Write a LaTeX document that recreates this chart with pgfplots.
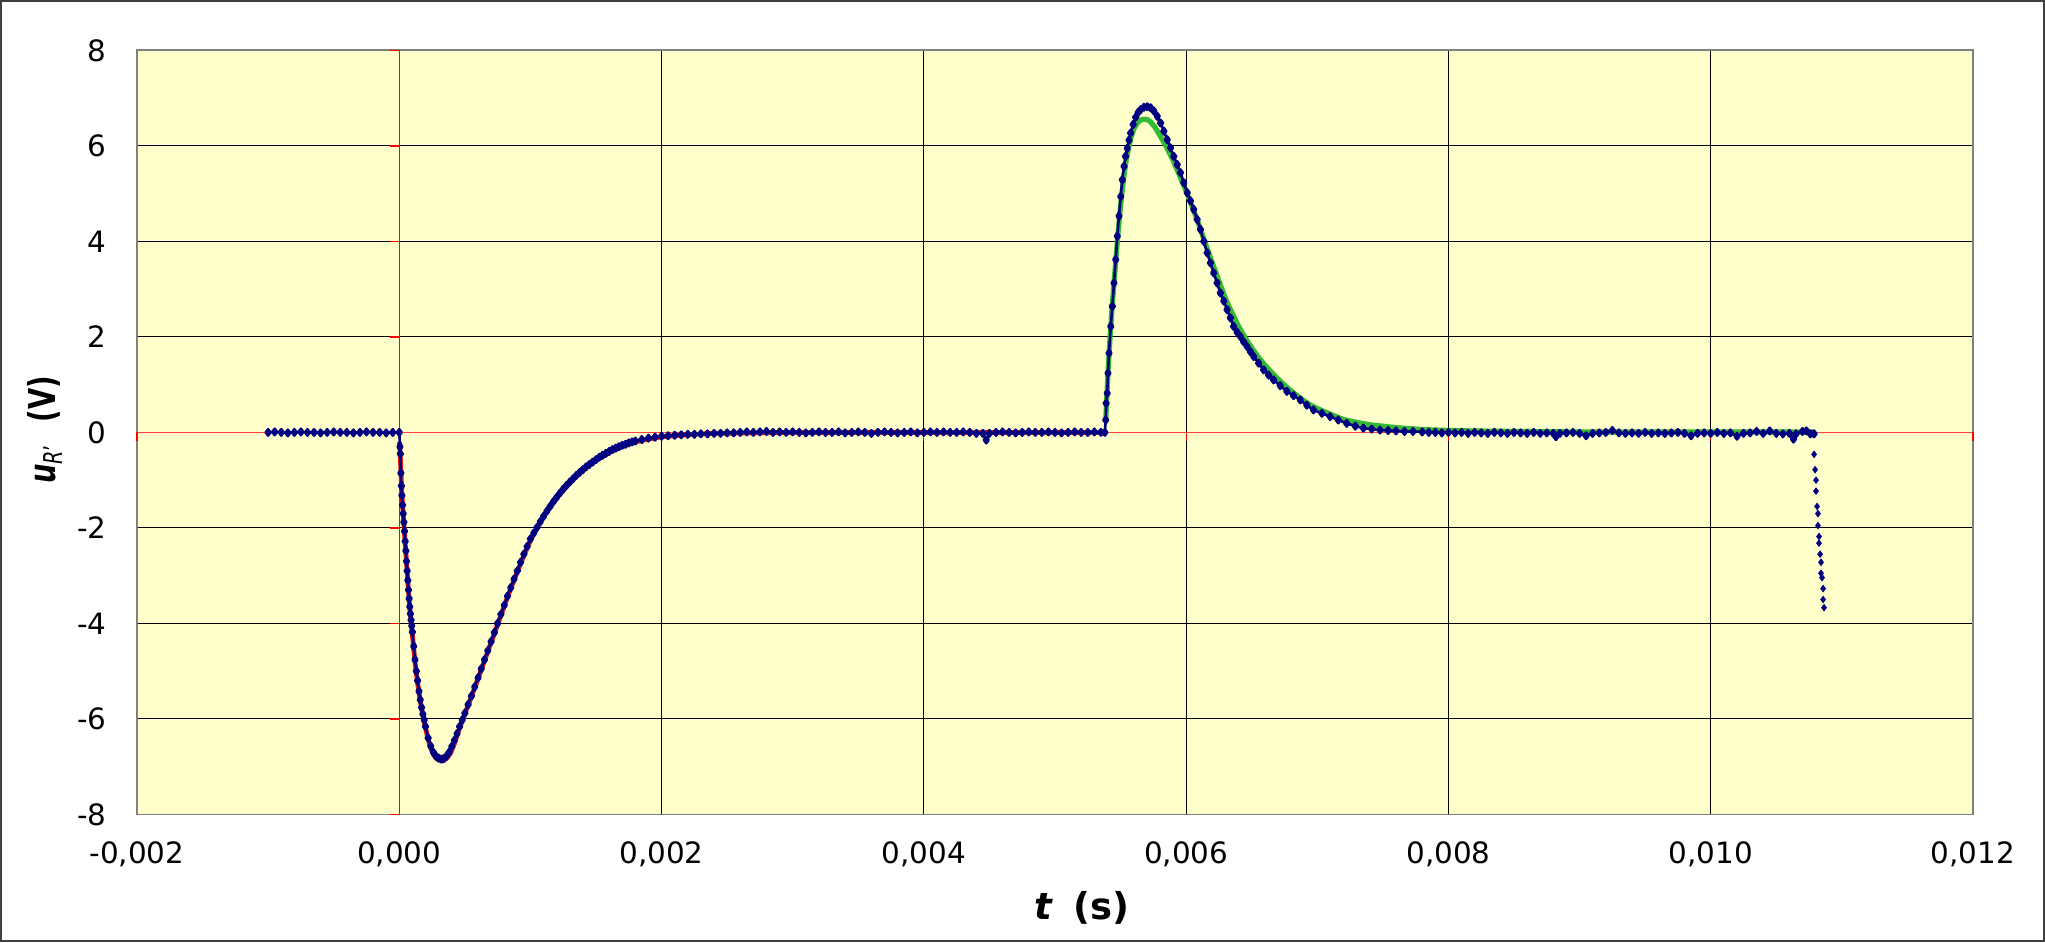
\documentclass[border=0pt]{standalone}
\usepackage{fontspec}
\setmainfont{DejaVu Sans}
\usepackage{graphicx}
\usepackage{pgfplots}
\pgfplotsset{compat=1.18}
\definecolor{bgyellow}{RGB}{255,255,204}
\definecolor{navydot}{RGB}{0,0,128}
\definecolor{fitgreen}{RGB}{51,187,51}
\definecolor{fitred}{RGB}{240,20,20}
\definecolor{axgray}{RGB}{128,128,128}
\definecolor{framecol}{RGB}{64,64,64}
\begin{document}
\begin{tikzpicture}
\begin{axis}[
  scale only axis, width=918pt, height=382pt,
  xmin=-0.002, xmax=0.012, ymin=-8, ymax=8,
  xtick={-0.002,0,0.002,0.004,0.006,0.008,0.010,0.012},
  xticklabels={{-0,002},{0,000},{0,002},{0,004},{0,006},{0,008},{0,010},{0,012}},
  ytick={-8,-6,-4,-2,0,2,4,6,8},
  yticklabels={{-8},{-6},{-4},{-2},{0},{2},{4},{6},{8}},
  scaled x ticks=false, scaled y ticks=false,
  grid=major, major grid style={black, line width=0.5pt},
  major tick length=0pt,
  axis line style={axgray, line width=0.9pt},
  axis background/.style={fill=bgyellow},
  tick label style={font=\fontsize{14.7}{17}\selectfont, black},
  xticklabel style={anchor=base, yshift=-24.5pt, inner sep=0pt},
  yticklabel style={anchor=east, inner sep=0pt, xshift=-15pt},
  xlabel={\textbf{\textit{t}}\hspace{0.55em}\textbf{(s)}},
  ylabel={\scalebox{0.74}[1]{\textbf{\textit{u}}\textsubscript{\textit{R}’}\hspace{0.8em}\textbf{(V)}}},
  every axis x label/.style={at={(axis description cs:0.5147,-0.1217)}, anchor=center},
  every axis y label/.style={at={(axis description cs:-0.050,0.503)}, anchor=center, rotate=90},
  label style={font=\fontsize{18.5}{22}\selectfont},
  clip=false,
]
\coordinate (SW) at (rel axis cs:0,0);
\coordinate (NE) at (rel axis cs:1,1);
\draw[red, line width=0.6pt] (axis cs:0,-8) -- (axis cs:0,8);
\draw[red!75!white, line width=0.6pt] (axis cs:-0.002,0) -- (axis cs:0.012,0);
\pgfplotsinvokeforeach{-8,-6,-4,-2,0,2,4,6,8}{\draw[red, line width=0.6pt] (axis cs:0,#1) -- ([xshift=-4.7pt]axis cs:0,#1);}
\pgfplotsinvokeforeach{-0.002,0,0.002,0.004,0.006,0.008,0.010,0.012}{\draw[red, line width=0.6pt] (axis cs:#1,0) -- ([yshift=-4.5pt]axis cs:#1,0);}

% red fit
\addplot[fitred, line width=2.4pt, line join=round] coordinates {
(0.000002,-0.20) (0.000010,-0.65) (0.000020,-1.30) (0.000030,-1.72) (0.000040,-2.12)
(0.000050,-2.52) (0.000060,-2.92) (0.000070,-3.32) (0.000080,-3.68) (0.000090,-3.98)
(0.000100,-4.24) (0.000120,-4.82) (0.000140,-5.25) (0.000160,-5.63) (0.000180,-5.93)
(0.000200,-6.19) (0.000220,-6.43) (0.000240,-6.61) (0.000260,-6.74) (0.000280,-6.82)
(0.000300,-6.86) (0.000330,-6.88) (0.000360,-6.83) (0.000390,-6.72) (0.000420,-6.52)
(0.000450,-6.27) (0.000480,-6.04) (0.000520,-5.75) (0.000560,-5.46) (0.000600,-5.16)
(0.000650,-4.78) (0.000700,-4.40) (0.000750,-4.02) (0.000800,-3.64) (0.000850,-3.27)
(0.000900,-2.92) (0.000950,-2.58) (0.001000,-2.26) (0.001050,-2.00) (0.001100,-1.76)
(0.001150,-1.55) (0.001200,-1.36) (0.001300,-1.04) (0.001400,-0.79) (0.001500,-0.58)
(0.001600,-0.42) (0.001700,-0.29) (0.001800,-0.20) (0.001900,-0.14) (0.002000,-0.09)
(0.002200,-0.05) (0.002400,-0.02) (0.002700,-0.01) (0.003000,0) (0.005380,0)
};

% green fit
\addplot[fitgreen, line width=2.6pt, line join=round] coordinates {
(0.005387,0.26) (0.005395,0.75) (0.005405,1.30) (0.005420,2.00) (0.005435,2.60)
(0.005450,3.13) (0.005465,3.65) (0.005480,4.15) (0.005495,4.60) (0.005510,5.00)
(0.005525,5.35) (0.005540,5.65) (0.005560,5.95) (0.005580,6.18) (0.005600,6.35)
(0.005625,6.47) (0.005650,6.54) (0.005680,6.56) (0.005705,6.55) (0.005730,6.50)
(0.005760,6.40) (0.005800,6.22) (0.005850,5.98) (0.005900,5.70) (0.005950,5.38)
(0.006000,5.05) (0.006050,4.70) (0.006100,4.33) (0.006150,3.93) (0.006200,3.55)
(0.006250,3.17) (0.006300,2.80) (0.006350,2.50) (0.006400,2.22) (0.006450,1.98)
(0.006500,1.77) (0.006550,1.58) (0.006600,1.41) (0.006650,1.26) (0.006700,1.12)
(0.006750,0.99) (0.006800,0.87) (0.006850,0.76) (0.006900,0.66) (0.006950,0.57)
(0.007000,0.50) (0.007100,0.38) (0.007200,0.27) (0.007300,0.21) (0.007400,0.16)
(0.007500,0.13) (0.007600,0.10) (0.007700,0.08) (0.007800,0.06) (0.007900,0.05)
(0.008000,0.04) (0.008200,0.03) (0.008500,0.02) (0.009000,0.01) (0.010788,0.01)
};

% measured data
\addplot[navydot, line width=1.3pt, line join=round, mark=diamond*, mark size=1.6pt, mark options={solid}] coordinates {
(-0.00100,0) (-0.00095,0.01) (-0.00090,0) (-0.00085,-0.01) (-0.00080,0) (-0.00075,0.01)
(-0.00070,0) (-0.00065,0) (-0.00060,-0.01) (-0.00055,0) (-0.00050,0.01) (-0.00045,0)
(-0.00040,0) (-0.00035,-0.01) (-0.00030,0) (-0.00025,0.01) (-0.00020,0) (-0.00015,0)
(-0.00010,-0.01) (-0.00005,0) (0.000000,0)
(0.000005,-0.30) (0.000008,-0.45) (0.000012,-0.85) (0.000016,-1.12) (0.000020,-1.32)
(0.000025,-1.52) (0.000030,-1.70) (0.000035,-1.88) (0.000040,-2.07) (0.000045,-2.28)
(0.000050,-2.48) (0.000055,-2.70) (0.000060,-2.90) (0.000065,-3.10) (0.000070,-3.30)
(0.000075,-3.48) (0.000080,-3.65) (0.000085,-3.80) (0.000090,-3.93) (0.000095,-4.05)
(0.000100,-4.18) (0.000110,-4.48) (0.000120,-4.76) (0.000130,-5.00) (0.000140,-5.20)
(0.000150,-5.42) (0.000160,-5.60) (0.000170,-5.76) (0.000180,-5.90) (0.000190,-6.02)
(0.000200,-6.16) (0.000220,-6.40) (0.000240,-6.57) (0.000260,-6.70) (0.000280,-6.78)
(0.000300,-6.82) (0.000320,-6.84) (0.000340,-6.83) (0.000360,-6.78) (0.000380,-6.70)
(0.000400,-6.58) (0.000420,-6.45) (0.000440,-6.31) (0.000460,-6.16) (0.000480,-6.02)
(0.000500,-5.88) (0.000525,-5.70) (0.000550,-5.52) (0.000575,-5.33) (0.000600,-5.14)
(0.000625,-4.95) (0.000650,-4.76) (0.000675,-4.57) (0.000700,-4.38) (0.000725,-4.19)
(0.000750,-4.00) (0.000775,-3.81) (0.000800,-3.62) (0.000825,-3.43) (0.000850,-3.25)
(0.000875,-3.07) (0.000900,-2.90) (0.000925,-2.72) (0.000950,-2.55) (0.000975,-2.39)
(0.001000,-2.23) (0.001025,-2.11) (0.001050,-1.99) (0.001075,-1.87) (0.001100,-1.76)
(0.001125,-1.65) (0.001150,-1.55) (0.001175,-1.45) (0.001200,-1.36) (0.001225,-1.27)
(0.001250,-1.19) (0.001275,-1.11) (0.001300,-1.04) (0.001325,-0.97) (0.001350,-0.90)
(0.001375,-0.84) (0.001400,-0.78) (0.001425,-0.72) (0.001450,-0.67) (0.001475,-0.62)
(0.001500,-0.57) (0.001525,-0.52) (0.001550,-0.48) (0.001575,-0.44) (0.001600,-0.40)
(0.001625,-0.36) (0.001650,-0.33) (0.001675,-0.30) (0.001700,-0.27) (0.001725,-0.25)
(0.001750,-0.22) (0.001775,-0.20) (0.001800,-0.18) (0.001850,-0.15) (0.001900,-0.12)
(0.001950,-0.10) (0.002000,-0.08) (0.002050,-0.07) (0.002100,-0.06) (0.002150,-0.05)
(0.002200,-0.04) (0.002250,-0.04) (0.002300,-0.03) (0.002350,-0.03) (0.002400,-0.02)
(0.002450,-0.02) (0.002500,-0.01)
(0.00255,-0.01) (0.00260,0) (0.00265,0.01) (0.00270,0) (0.00275,0.01) (0.00280,0.02)
(0.00285,0) (0.00290,0.01) (0.00295,0) (0.00300,0.01) (0.00305,0) (0.00310,-0.01)
(0.00315,0) (0.00320,0.01) (0.00325,0) (0.00330,0) (0.00335,0.01) (0.00340,-0.01)
(0.00345,0) (0.00350,0.01) (0.00355,0) (0.00360,-0.02) (0.00365,0) (0.00370,0.01)
(0.00375,0) (0.00380,-0.01) (0.00385,0) (0.00390,0.01) (0.00395,-0.01) (0.00400,0)
(0.00405,0.01) (0.00410,0) (0.00415,0.01) (0.00420,0) (0.00425,0) (0.00430,0.01)
(0.00435,0) (0.00440,-0.02) (0.00445,-0.02) (0.004476,-0.16) (0.00450,-0.02) (0.00455,0)
(0.00460,0.01) (0.00465,0) (0.00470,-0.01) (0.00475,0) (0.00480,0.01) (0.00485,0)
(0.00490,0) (0.00495,0.01) (0.00500,0) (0.00505,-0.01) (0.00510,0) (0.00515,0.01)
(0.00520,0) (0.00525,0) (0.00530,0.01) (0.00535,0) (0.005380,0)
(0.005387,0.26) (0.005390,0.61) (0.005398,0.82) (0.005404,1.24) (0.005412,1.66)
(0.005425,2.22) (0.005437,2.64) (0.005450,3.13) (0.005463,3.62) (0.005475,4.11)
(0.005488,4.53) (0.005501,4.94) (0.005513,5.29) (0.005526,5.57) (0.005538,5.78)
(0.005551,5.95) (0.005564,6.12) (0.005577,6.27) (0.005596,6.45) (0.005615,6.60)
(0.005634,6.70) (0.005653,6.76) (0.005678,6.81) (0.005703,6.82) (0.005729,6.80)
(0.005754,6.73) (0.005780,6.62) (0.005805,6.48) (0.005830,6.31) (0.005856,6.13)
(0.005881,5.96) (0.005906,5.78) (0.005932,5.61) (0.005957,5.44) (0.005982,5.23)
(0.006008,5.02) (0.006033,4.85) (0.006058,4.67) (0.006084,4.46) (0.006109,4.25)
(0.006135,4.00) (0.006160,3.76) (0.006185,3.55) (0.006210,3.34) (0.006236,3.13)
(0.006261,2.92) (0.006287,2.75) (0.006312,2.57) (0.006337,2.40) (0.006362,2.22)
(0.006388,2.10) (0.006413,2.01) (0.006438,1.90) (0.006464,1.80) (0.006490,1.69)
(0.006515,1.59) (0.006553,1.45) (0.006591,1.31) (0.006629,1.20) (0.006667,1.10)
(0.006717,0.98) (0.006768,0.86) (0.006819,0.77) (0.006870,0.68) (0.006920,0.57)
(0.006971,0.47) (0.007035,0.40) (0.007098,0.33) (0.007160,0.26) (0.007224,0.19)
(0.007290,0.13) (0.007351,0.09) (0.007415,0.07) (0.007478,0.05) (0.007540,0.04)
(0.007600,0.03) (0.007665,0.02) (0.007730,0.02) (0.007800,0.01) (0.007850,0)
(0.00790,0) (0.00795,-0.01) (0.00800,0) (0.00805,-0.01) (0.00810,0) (0.00815,-0.02)
(0.00820,0) (0.00825,-0.01) (0.00830,-0.02) (0.00835,0) (0.00840,-0.01) (0.00845,-0.02)
(0.00850,0) (0.00855,-0.01) (0.00860,-0.02) (0.00865,0) (0.00870,-0.02) (0.00875,-0.01)
(0.00880,-0.02) (0.00882,-0.09) (0.00885,-0.02) (0.00890,-0.01) (0.00895,0) (0.00900,-0.02)
(0.00905,-0.07) (0.00910,-0.02) (0.00915,-0.01) (0.00920,0) (0.00925,0.04) (0.00930,-0.01)
(0.00935,-0.02) (0.00940,-0.01) (0.00945,-0.02) (0.00950,0) (0.00955,-0.02) (0.00960,-0.01)
(0.00965,-0.02) (0.00970,-0.01) (0.00975,0) (0.00980,-0.02) (0.00985,-0.07) (0.00990,-0.02)
(0.00995,-0.01) (0.01000,-0.02) (0.01005,0) (0.01010,-0.02) (0.01015,-0.01) (0.01020,-0.08)
(0.01025,-0.02) (0.01030,-0.01) (0.01035,0.02) (0.01040,-0.02) (0.01045,0.03) (0.01050,-0.02)
(0.01055,-0.03) (0.01060,-0.02) (0.010631,-0.14) (0.01065,-0.03) (0.01070,0.02) (0.01073,0.03)
(0.01076,-0.03) (0.010788,-0.03)
};

% final drop (separate points)
\addplot[navydot, only marks, mark=diamond*, mark size=1.6pt] coordinates {
(0.010788,-0.46) (0.010796,-0.78) (0.010803,-1.00) (0.010803,-1.23) (0.010811,-1.55)
(0.010818,-1.70) (0.010818,-1.95) (0.010826,-2.18) (0.010826,-2.32) (0.010834,-2.55)
(0.010841,-2.72) (0.010841,-2.95) (0.010849,-3.04) (0.010857,-3.27) (0.010857,-3.50)
(0.010864,-3.67)
};
\end{axis}
\draw[framecol, line width=1pt] ([shift={(-68pt,-63.5pt)}]SW) rectangle ([shift={(35.5pt,24.7pt)}]NE);
\end{tikzpicture}
\end{document}
